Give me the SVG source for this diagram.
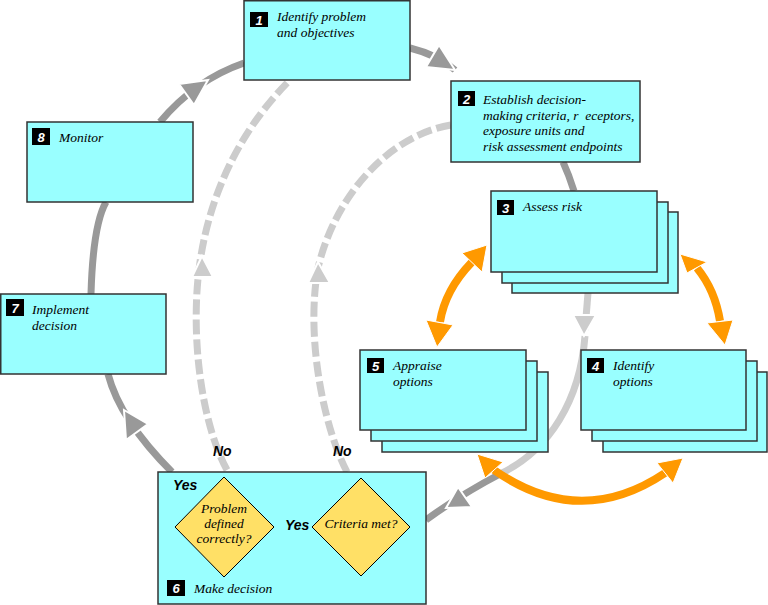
<svg xmlns="http://www.w3.org/2000/svg" width="768" height="605" viewBox="0 0 768 605">
<style>
.box{fill:#99FFFF;stroke:#333;stroke-width:1.5}
.badge{fill:#000}
.num{font-family:"Liberation Sans",Arial,sans-serif;font-weight:bold;font-style:italic;font-size:13px;fill:#fff;text-anchor:middle}
.lbl{font-family:"Liberation Serif","Times New Roman",serif;font-style:italic;font-size:13.5px;fill:#000;white-space:pre}
.mid{text-anchor:middle}
.yn{font-family:"Liberation Sans",Arial,sans-serif;font-weight:bold;font-style:italic;font-size:14px;fill:#000}
.dia{fill:#FFE066;stroke:#000;stroke-width:1}
.dk{fill:none;stroke:#999;stroke-width:7}
.lt{fill:none;stroke:#ccc;stroke-width:7}
.dash{fill:none;stroke:#ccc;stroke-width:7;stroke-dasharray:15 5}
.or{fill:none;stroke:#F90;stroke-width:8}
.dkh{fill:#999;stroke:#fff;stroke-width:2}
.lth{fill:#ccc;stroke:#fff;stroke-width:2}
.orh{fill:#F90;stroke:#fff;stroke-width:1}
</style>
<rect width="768" height="605" fill="#fff"/>
<g id="connectors">
  <path class="dk" d="M172,472 Q120,420 108,374"/>
  <polygon class="dkh" points="124,410 148,424 126,440"/>
  <path class="dk" d="M91,294 Q93,225 106,202"/>
  <path class="dk" d="M160,122 Q195,80 244,63"/>
  <polygon class="dkh" points="208,80 194,105 179,84"/>
  <path class="dk" d="M410,48 Q438,55 455,70"/>
  <polygon class="dkh" points="455,70 426,67 439,45"/>
  <path class="dk" d="M563,162 Q569,175 574,191"/>
  <path class="lt" d="M588,293 L585,330"/>
  <path class="lt" d="M585,336 C580,400 550,450 500,474"/>
  <polygon class="lth" points="584,336 573,315 596,315"/>
  <path class="dk" d="M500,474 Q460,495 426,520"/>
  <polygon class="dkh" points="446,508 458,487 472,507"/>
  <path class="dash" d="M227,470 C200,420 190,330 200,262 C212,180 250,120 290,80"/>
  <polygon class="lth" points="202,256 192,277 213,277"/>
  <path class="dash" d="M347,472 C325,430 305,340 318,268 C335,195 390,135 451,125"/>
  <polygon class="lth" points="318,262 308,283 330,283"/>
  <path class="or" d="M472,262 Q445,290 440,322"/>
  <polygon class="orh" points="487,245 462,253 482,272"/>
  <polygon class="orh" points="437,347 426,320 453,325"/>
  <path class="or" d="M697,268 Q715,290 720,321"/>
  <polygon class="orh" points="680,254 687,273 707,262"/>
  <polygon class="orh" points="725,345 707,323 733,320"/>
  <path class="or" d="M494,470 Q580,530 665,473"/>
  <polygon class="orh" points="477,454 503,462 485,478"/>
  <polygon class="orh" points="683,458 657,463 673,483"/>
  <text class="yn" x="213" y="456">No</text>
  <text class="yn" x="333" y="456">No</text>
</g>
<g id="node1">
  <rect class="box" x="244" y="0.75" width="166" height="79.25"/>
  <rect class="badge" x="250" y="12" width="18" height="15"/>
  <text class="num" x="259" y="24.5">1</text>
  <text class="lbl" x="277" y="21">Identify problem</text>
  <text class="lbl" x="277" y="37">and objectives</text>
</g>
<g id="node2">
  <rect class="box" x="451" y="81" width="189" height="81"/>
  <rect class="badge" x="458" y="91" width="17" height="15"/>
  <text class="num" x="466.5" y="103.5">2</text>
  <text class="lbl" x="483" y="104">Establish decision-</text>
  <text class="lbl" x="483" y="119.5">making criteria, r  eceptors,</text>
  <text class="lbl" x="483" y="135">exposure units and</text>
  <text class="lbl" x="483" y="150.5">risk assessment endpoints</text>
</g>
<g id="node3">
  <rect class="box" x="512" y="212" width="166" height="81"/>
  <rect class="box" x="502" y="202" width="166" height="81"/>
  <rect class="box" x="491" y="191" width="166" height="81"/>
  <rect class="badge" x="497" y="200" width="17" height="15"/>
  <text class="num" x="505.5" y="212.5">3</text>
  <text class="lbl" x="523" y="211">Assess risk</text>
</g>
<g id="node4">
  <rect class="box" x="603" y="372" width="164" height="80"/>
  <rect class="box" x="592" y="361" width="165" height="80"/>
  <rect class="box" x="581" y="350" width="165" height="80"/>
  <rect class="badge" x="587" y="358" width="17" height="15"/>
  <text class="num" x="595.5" y="370.5">4</text>
  <text class="lbl" x="613" y="370">Identify</text>
  <text class="lbl" x="613" y="386">options</text>
</g>
<g id="node5">
  <rect class="box" x="382" y="372" width="166" height="80"/>
  <rect class="box" x="371" y="361" width="166" height="80"/>
  <rect class="box" x="360" y="350" width="166" height="80"/>
  <rect class="badge" x="367" y="358" width="17" height="15"/>
  <text class="num" x="375.5" y="370.5">5</text>
  <text class="lbl" x="393" y="370">Appraise</text>
  <text class="lbl" x="393" y="386">options</text>
</g>
<g id="node6">
  <rect class="box" x="158" y="472" width="268" height="132"/>
  <text class="yn" x="173" y="490">Yes</text>
  <polygon class="dia" points="224,477 274,527 224,577 175,527"/>
  <text class="lbl mid" x="224" y="513">Problem</text>
  <text class="lbl mid" x="224" y="528">defined</text>
  <text class="lbl mid" x="224" y="543">correctly?</text>
  <text class="yn" x="285" y="530">Yes</text>
  <polygon class="dia" points="361,478 410,527 361,576 312,527"/>
  <text class="lbl mid" x="361" y="528">Criteria met?</text>
  <rect class="badge" x="167" y="580" width="18" height="16"/>
  <text class="num" x="176" y="593">6</text>
  <text class="lbl" x="194" y="593">Make decision</text>
</g>
<g id="node7">
  <rect class="box" x="0.75" y="294" width="165.25" height="80"/>
  <rect class="badge" x="6" y="299" width="18" height="17"/>
  <text class="num" x="15" y="312.5">7</text>
  <text class="lbl" x="32" y="314">Implement</text>
  <text class="lbl" x="32" y="330">decision</text>
</g>
<g id="node8">
  <rect class="box" x="27" y="122" width="166" height="80"/>
  <rect class="badge" x="32" y="128" width="18" height="17"/>
  <text class="num" x="41" y="141.5">8</text>
  <text class="lbl" x="59" y="142">Monitor</text>
</g>
</svg>
